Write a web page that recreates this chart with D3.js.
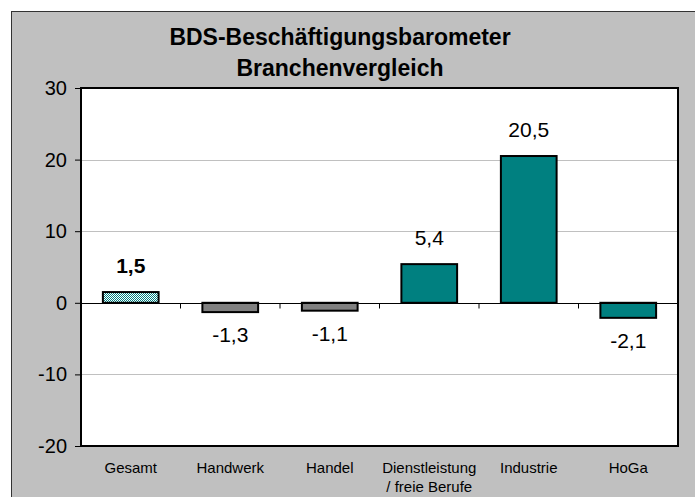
<!DOCTYPE html>
<html>
<head>
<meta charset="utf-8">
<script src="https://cdn.jsdelivr.net/npm/d3@7"></script>
<style>
  body { margin: 0; background: #fff; }
  text { font-family: "Liberation Sans", Arial, sans-serif; fill: #000; }
</style>
</head>
<body>
<svg id="chart" width="695" height="497"></svg>
<script>
// Données
const categories = ['Gesamt', 'Handwerk', 'Handel', 'Dienstleistung\n/ freie Berufe', 'Industrie', 'HoGa']
const values = [1.5, -1.3, -1.1, 5.4, 20.5, -2.1]
const valueLabels = ['1,5', '-1,3', '-1,1', '5,4', '20,5', '-2,1']
const barKinds = ['pattern', 'grey', 'grey', 'teal', 'teal', 'teal']
const yTicks = [-20, -10, 0, 10, 20, 30]
const titleLines = ['BDS-Beschäftigungsbarometer', 'Branchenvergleich']

// Mise en page
const plot = { left: 81, top: 88, right: 678, bottom: 446 }
const fills = { teal: '#008080', grey: '#808080', pattern: 'url(#checker)' }

const svg = d3.select('#chart')

// motif damier pour "Gesamt"
const pat = svg.append('defs').append('pattern')
  .attr('id', 'checker').attr('width', 2).attr('height', 2)
  .attr('patternUnits', 'userSpaceOnUse')
pat.append('rect').attr('width', 2).attr('height', 2).attr('fill', '#ffffff')
pat.append('rect').attr('width', 1).attr('height', 1).attr('fill', '#008080')
pat.append('rect').attr('x', 1).attr('y', 1).attr('width', 1).attr('height', 1).attr('fill', '#008080')

// fond du graphique
svg.append('rect')
  .attr('x', 11.5).attr('y', 11.5).attr('width', 695).attr('height', 497)
  .attr('fill', '#c0c0c0').attr('stroke', '#333').attr('stroke-width', 1)

// titre
svg.append('g').selectAll('text')
  .data(titleLines)
  .enter().append('text')
  .attr('x', 340)
  .attr('y', (d, i) => 45 + i * 31)
  .attr('text-anchor', 'middle')
  .attr('font-size', 23)
  .attr('font-weight', 'bold')
  .text(d => d)

const x = d3.scaleBand()
  .domain(categories)
  .range([plot.left, plot.right])
  .paddingInner(0.44)
  .paddingOuter(0.22)

const y = d3.scaleLinear()
  .domain([-20, 30])
  .range([plot.bottom, plot.top])

// zone de tracé
svg.append('rect')
  .attr('x', plot.left).attr('y', plot.top)
  .attr('width', plot.right - plot.left).attr('height', plot.bottom - plot.top)
  .attr('fill', '#fff')

// grille
svg.append('g').selectAll('line')
  .data(yTicks.filter(t => t !== 0 && t !== -20 && t !== 30))
  .enter().append('line')
  .attr('x1', plot.left).attr('x2', plot.right)
  .attr('y1', d => Math.round(y(d)) + 0.5).attr('y2', d => Math.round(y(d)) + 0.5)
  .attr('stroke', '#c0c0c0').attr('stroke-width', 1)

// axe Y
const yAxis = svg.append('g')
  .attr('transform', 'translate(' + plot.left + ',0)')
  .call(d3.axisLeft(y).tickValues(yTicks).tickSize(6).tickPadding(8).tickFormat(d => d))
yAxis.select('.domain').remove()
yAxis.selectAll('.tick line').attr('stroke', '#000')
yAxis.selectAll('.tick text').attr('font-size', 20).attr('font-family', '"Liberation Sans", Arial, sans-serif').attr('fill', '#000')

// cadre du tracé
svg.append('rect')
  .attr('x', plot.left).attr('y', plot.top)
  .attr('width', plot.right - plot.left).attr('height', plot.bottom - plot.top)
  .attr('fill', 'none').attr('stroke', '#000').attr('stroke-width', 2)

// barres
svg.append('g').selectAll('rect')
  .data(values)
  .enter().append('rect')
  .attr('x', (d, i) => x(categories[i]))
  .attr('y', d => y(Math.max(0, d)))
  .attr('width', x.bandwidth())
  .attr('height', d => Math.abs(y(d) - y(0)))
  .attr('fill', (d, i) => fills[barKinds[i]])
  .attr('stroke', '#000').attr('stroke-width', 2)

// ligne zéro et graduations de catégories
const zeroY = Math.round(y(0)) + 0.5
svg.append('line')
  .attr('x1', plot.left).attr('x2', plot.right)
  .attr('y1', zeroY).attr('y2', zeroY)
  .attr('stroke', '#000').attr('stroke-width', 1)
const step = x.step()
svg.append('g').selectAll('line')
  .data(categories.slice(1))
  .enter().append('line')
  .attr('x1', d => x(d) - step * x.paddingInner() / 2)
  .attr('x2', d => x(d) - step * x.paddingInner() / 2)
  .attr('y1', zeroY).attr('y2', zeroY + 5)
  .attr('stroke', '#000')

// étiquettes de valeurs
svg.append('g').selectAll('text')
  .data(values)
  .enter().append('text')
  .attr('x', (d, i) => x(categories[i]) + x.bandwidth() / 2)
  .attr('y', d => d >= 0 ? y(d) - 19 : y(d) + 30)
  .attr('text-anchor', 'middle')
  .attr('font-size', 21)
  .attr('font-weight', (d, i) => i === 0 ? 'bold' : 'normal')
  .text((d, i) => valueLabels[i])

// étiquettes de catégories
const catG = svg.append('g')
categories.forEach(function (c) {
  const t = catG.append('text')
    .attr('x', x(c) + x.bandwidth() / 2)
    .attr('y', 473)
    .attr('text-anchor', 'middle')
    .attr('font-size', 15)
  c.split('\n').forEach(function (line, i) {
    t.append('tspan').attr('x', x(c) + x.bandwidth() / 2).attr('dy', i === 0 ? 0 : 19).text(line)
  })
})
</script>
</body>
</html>
